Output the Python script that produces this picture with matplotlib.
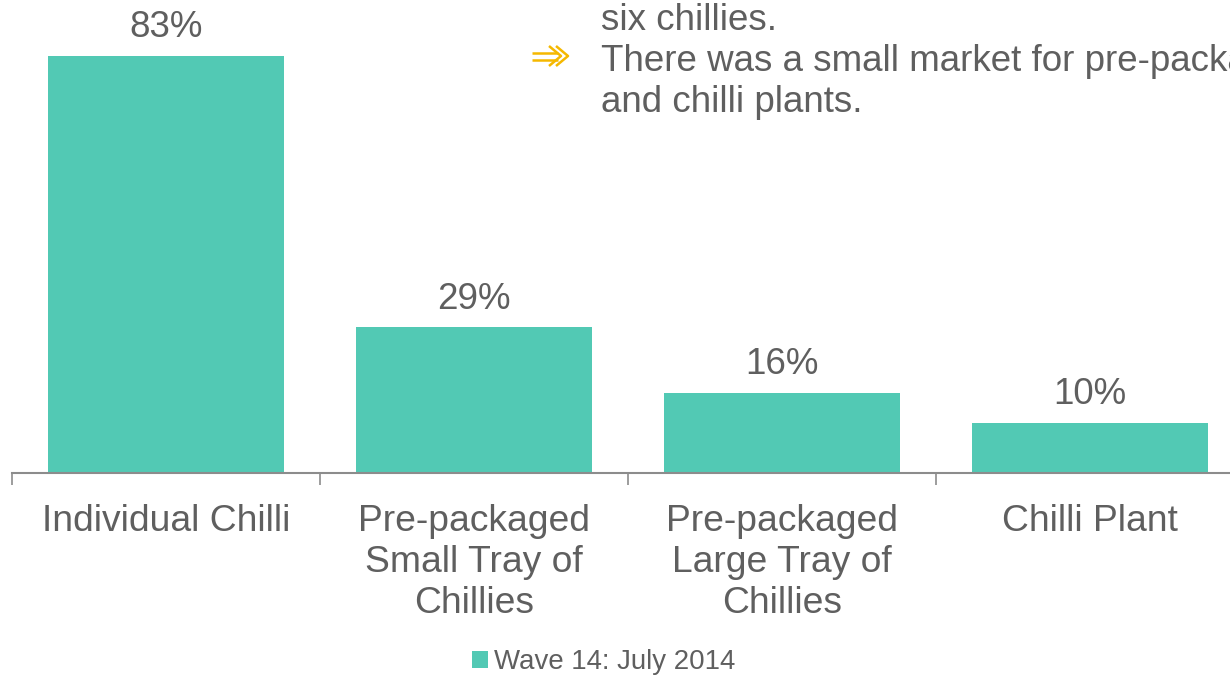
import matplotlib
matplotlib.use("Agg")
import matplotlib.pyplot as plt
from matplotlib.lines import Line2D
from matplotlib.ticker import FixedLocator

plt.rcParams['font.family'] = ['Liberation Sans', 'DejaVu Sans']

categories = ['Individual Chilli', 'Pre-packaged\nSmall Tray of\nChillies',
              'Pre-packaged\nLarge Tray of\nChillies', 'Chilli Plant']
values = [83, 29, 16, 10]
value_labels = ['83%', '29%', '16%', '10%']
series_name = 'Wave 14: July 2014'
notes = ['six chillies.', 'There was a small market for pre-packaged trays', 'and chilli plants.']

bar_color = '#52C9B4'
text_color = '#5F5F5F'
axis_color = '#8C8C8C'
arrow_color = '#F5B800'

W, H = 1230, 677
fig = plt.figure(figsize=(W / 100, H / 100), dpi=100)

# axes spans past the right edge so the last slot is cut off
px = 308
base_y = 473
ax = fig.add_axes([12 / W, 1 - base_y / H, 4 * px / W, 452 / H])
x = list(range(len(categories)))
bars = ax.bar(x, values, width=0.766, color=bar_color, label=series_name)
ax.set_xlim(-0.5, 3.5)
ax.set_ylim(0, 90)

for xi, v, lab in zip(x, values, value_labels):
    ax.annotate(lab, (xi, v), xytext=(0, 20.3), textcoords='offset points',
                ha='center', va='center', fontsize=26.5, color=text_color)

for s in ['top', 'right', 'left']:
    ax.spines[s].set_visible(False)
ax.spines['bottom'].set_color(axis_color)
ax.spines['bottom'].set_linewidth(1.5)
ax.set_yticks([])

ax.set_xticks(x)
ax.set_xticklabels(categories, fontsize=26.8, color=text_color, linespacing=1.22)
ax.tick_params(axis='x', which='major', length=0, pad=22.5)
ax.xaxis.set_minor_locator(FixedLocator([-0.5, 0.5, 1.5, 2.5, 3.5]))
ax.tick_params(axis='x', which='minor', length=8.6, width=1.2, color=axis_color, direction='out')

# commentary text at the top right
line_gap = 41
for i, t in enumerate(notes):
    fig.text(601 / W, 1 - (30 + i * line_gap) / H, t, fontsize=26.5,
             color=text_color, va='baseline', ha='left')


def fpt(xp, yp):
    return xp / W, 1 - yp / H


# double-shafted bullet arrow
arrow_kw = dict(transform=fig.transFigure, color=arrow_color, linewidth=1.8,
                solid_capstyle='butt')
for yy in (52.5, 59.5):
    (x0, y0), (x1, y1) = fpt(532, yy), fpt(558, yy)
    fig.add_artist(Line2D([x0, x1], [y0, y1], **arrow_kw))
for tip in (561, 568):
    pts = [fpt(tip - 12, 46), fpt(tip, 56), fpt(tip - 12, 66)]
    fig.add_artist(Line2D([p[0] for p in pts], [p[1] for p in pts], **arrow_kw))

fig.legend(handles=[bars], loc='center', bbox_to_anchor=(604 / W, 1 - 662 / H),
           frameon=False, fontsize=19.9, handlelength=0.55, handleheight=0.55,
           handletextpad=0.25, labelcolor=text_color)

fig.savefig('out.png', dpi=100)
